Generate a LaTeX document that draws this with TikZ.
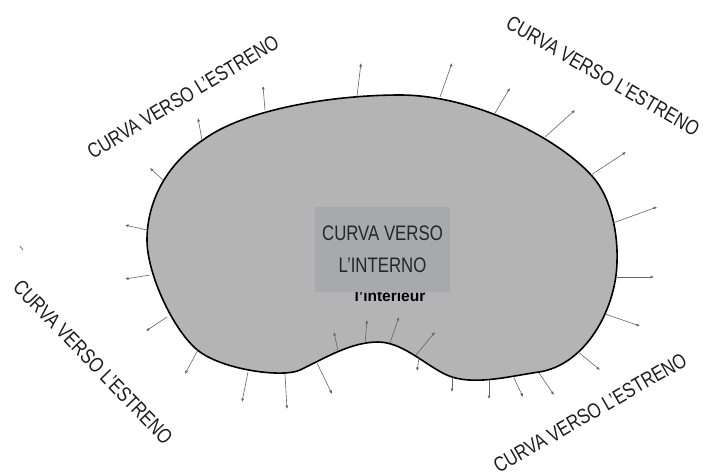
\documentclass[tikz,border=0pt]{standalone}
\usepackage{fontspec}
\setmainfont{Liberation Sans}
\newfontfamily\condfont[FakeStretch=0.8]{Liberation Sans}
\usetikzlibrary{arrows.meta}
\definecolor{shapegray}{HTML}{B4B4B4}
\definecolor{boxgray}{HTML}{A8A9AD}
\definecolor{labeltext}{HTML}{1E1E1E}
\begin{document}
\begin{tikzpicture}[x=1pt,y=-1pt,
  normalarrow/.style={draw=black!60, line width=0.6pt, -{Latex[length=3.5pt,width=3pt]}},
  outerlabel/.style={font=\condfont\fontsize{21}{21}\selectfont, text=labeltext, inner sep=0pt},
  innerlabel/.style={font=\condfont\fontsize{21}{32}\selectfont, text=black!85, align=center,
    fill=boxgray, minimum width=135pt, minimum height=85pt, inner sep=0pt},
  hiddenlabel/.style={font=\bfseries\fontsize{15.5}{16}\selectfont, text=black, inner sep=0pt, anchor=base}]
\useasboundingbox (0,0) rectangle (712,472);
\fill[white] (0,0) rectangle (712,472);
% body
\draw[fill=shapegray, draw=black, line width=1.6pt]
  (400,95) .. controls (470,95) and (555,135) .. (592,176)
  .. controls (612,198) and (618,235) .. (617,262)
  .. controls (616,310) and (585,365) .. (539,372)
  .. controls (511,376) and (477,385) .. (452,377)
  .. controls (430,370) and (405,342) .. (378,342)
  .. controls (351,342) and (325,358) .. (300,370)
  .. controls (283,378) and (225,370) .. (200,352)
  .. controls (175,334) and (147,275) .. (147,240)
  .. controls (147,200) and (168,163) .. (203,140)
  .. controls (243,110) and (330,95) .. (400,95) -- cycle;
% normal arrows
\draw[normalarrow] (357,96) -- (361,63);
\draw[normalarrow] (440,97) -- (452,63);
\draw[normalarrow] (495,113) -- (510,88);
\draw[normalarrow] (545,137) -- (575,110);
\draw[normalarrow] (591,175) -- (626,152);
\draw[normalarrow] (613,223) -- (657,207);
\draw[normalarrow] (617,277) -- (654,277);
\draw[normalarrow] (605,314) -- (640,326);
\draw[normalarrow] (577,351) -- (600,370);
\draw[normalarrow] (539,373) -- (554,395);
\draw[normalarrow] (514,378) -- (523,397);
\draw[normalarrow] (489,380) -- (489,399);
\draw[normalarrow] (452,377) -- (452,392);
\draw[normalarrow] (419,358) -- (417,371);
\draw[normalarrow] (416,355) -- (435,332);
\draw[normalarrow] (390,343) -- (399,317);
\draw[normalarrow] (365,343) -- (367,320);
\draw[normalarrow] (338,351) -- (334,332);
\draw[normalarrow] (317,363) -- (332,394);
\draw[normalarrow] (285,374) -- (287,409);
\draw[normalarrow] (248,372) -- (242,402);
\draw[normalarrow] (198,350) -- (185,374);
\draw[normalarrow] (167,317) -- (146,331);
\draw[normalarrow] (150,275) -- (125,279);
\draw[normalarrow] (147,230) -- (125,225);
\draw[normalarrow] (163,180) -- (150,168);
\draw[normalarrow] (202,140) -- (198,118);
\draw[normalarrow] (265,110) -- (263,86);
% stray mark
\draw[draw=blue!40!black!60, line width=0.8pt] (20,246) -- (23,250);
% texts
\node[hiddenlabel] (fr) at (390,301) {l’intérieur};
\node[innerlabel] (inner) at (382.5,249.5) {CURVA VERSO\\L’INTERNO};
\node[outerlabel, rotate=31] (tl) at (183,97) {CURVA VERSO L’ESTRENO};
\node[outerlabel, rotate=-30] (tr) at (603,76) {CURVA VERSO L’ESTRENO};
\node[outerlabel, rotate=-46] (bl) at (93,362) {CURVA VERSO L’ESTRENO};
\node[outerlabel, rotate=30] (br) at (590,413) {CURVA VERSO L’ESTRENO};
\end{tikzpicture}
\end{document}
